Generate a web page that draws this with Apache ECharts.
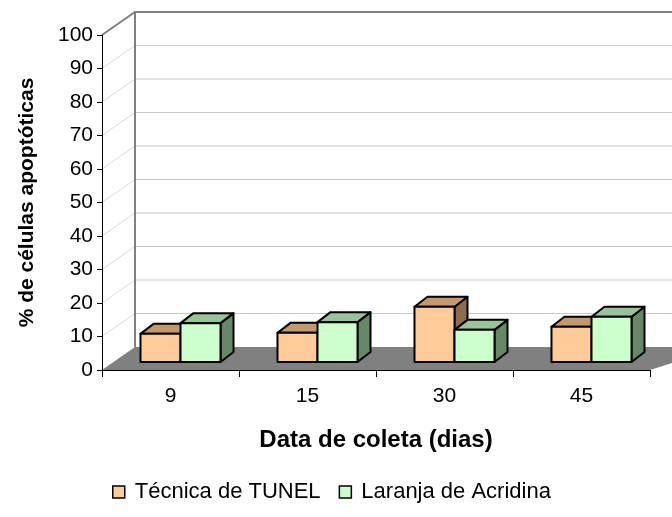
<!DOCTYPE html>
<html>
<head>
<meta charset="utf-8">
<script src="https://cdn.jsdelivr.net/npm/echarts@6/dist/echarts.min.js"></script>
<style>
  html, body { margin: 0; padding: 0; background: #fff; }
  #chart { width: 672px; height: 517px; }
</style>
</head>
<body>
<div id="chart"></div>
<script>
// Apoptotic cell percentage by collection day, two staining methods
const categories = ['9', '15', '30', '45'];
const tunel = [8.4, 8.7, 16.5, 10.5];
const acridina = [11.6, 11.9, 9.6, 13.5];
const seriesNames = ['Técnica de TUNEL', 'Laranja de Acridina'];
const yTicks = [0, 10, 20, 30, 40, 50, 60, 70, 80, 90, 100];

const FONT = '"Liberation Sans", Arial, Helvetica, sans-serif';

// pseudo-3D geometry (pixels)
const WALL_DEPTH = [33, -23];   // offset of back wall from the front plane
const BAR_SHIFT = [10, -8];     // offset of bar front faces from the front plane
const BAR_DEPTH = [13, -10];    // depth of each box
const BAR_FRAC = 0.292;         // bar width as a fraction of the category band

const palettes = [
  { front: '#FFCC99', top: '#C49A6C', side: '#8B6C4C' },
  { front: '#CCFFCC', top: '#99C499', side: '#668866' }
];

const chart = echarts.init(document.getElementById('chart'));

function scene(params, api) {
  const cs = params.coordSys;
  const x0 = cs.x, x1 = cs.x + cs.width;
  const yBase = api.coord([0, 0])[1];
  const yTop = api.coord([0, 100])[1];
  const [dx, dy] = WALL_DEPTH;
  const children = [];
  // floor
  children.push({
    type: 'polygon',
    shape: { points: [[x0, yBase], [x0 + dx, yBase + dy], [x1 + dx + 40, yBase + dy], [x1, yBase]] },
    style: { fill: '#808080' }
  });
  yTicks.forEach(v => {
    if (v === 0 || v === 100) return;
    const y = api.coord([0, v])[1];
    children.push({
      type: 'line',
      shape: { x1: x0, y1: y, x2: x0 + dx, y2: y + dy },
      style: { stroke: '#d8d8d8', lineWidth: 1 }
    });
    children.push({
      type: 'line',
      shape: { x1: x0 + dx, y1: y + dy, x2: x1 + dx + 40, y2: y + dy },
      style: { stroke: '#c8c8c8', lineWidth: 1 }
    });
  });
  // wall edges
  children.push({
    type: 'polyline',
    shape: { points: [[x0, yTop], [x0 + dx, yTop + dy], [x1 + dx + 40, yTop + dy]] },
    style: { stroke: '#808080', lineWidth: 2, fill: null }
  });
  children.push({
    type: 'line',
    shape: { x1: x0 + dx, y1: yTop + dy, x2: x0 + dx, y2: yBase + dy },
    style: { stroke: '#808080', lineWidth: 2 }
  });
  return { type: 'group', children };
}

function boxRenderer(seriesIdx) {
  const pal = palettes[seriesIdx];
  return function (params, api) {
    const i = api.value(0);
    const v = api.value(1);
    const base = api.coord([i, 0]);
    const top = api.coord([i, v]);
    const w = api.size([1, 0])[0] * BAR_FRAC;
    const cx = base[0] + BAR_SHIFT[0];
    const left = seriesIdx === 0 ? cx - w : cx;
    const right = left + w;
    const yb = base[1] + BAR_SHIFT[1];
    const yt = top[1] + BAR_SHIFT[1];
    const [bx, by] = BAR_DEPTH;
    const edge = { stroke: '#000', lineWidth: 2, lineJoin: 'round' };
    return {
      type: 'group',
      children: [
        { type: 'polygon', shape: { points: [[right, yb], [right + bx, yb + by], [right + bx, yt + by], [right, yt]] },
          style: Object.assign({ fill: pal.side }, edge) },
        { type: 'polygon', shape: { points: [[left, yt], [left + bx, yt + by], [right + bx, yt + by], [right, yt]] },
          style: Object.assign({ fill: pal.top }, edge) },
        { type: 'rect', shape: { x: left, y: yt, width: w, height: yb - yt },
          style: Object.assign({ fill: pal.front }, edge) }
      ]
    };
  };
}

const option = {
  animation: false,
  backgroundColor: '#fff',
  grid: { left: 102, right: 22, top: 35, bottom: 147, containLabel: false, outerBoundsMode: 'none' },
  xAxis: {
    type: 'category',
    data: categories,
    z: 5,
    name: 'Data de coleta (dias)',
    nameLocation: 'middle',
    nameGap: 58,
    nameTextStyle: { fontFamily: FONT, fontSize: 24, fontWeight: 'bold', color: '#000' },
    axisLine: { lineStyle: { color: '#000', width: 1 } },
    axisTick: { show: true, length: 7, lineStyle: { color: '#000' } },
    axisLabel: { fontFamily: FONT, fontSize: 21, color: '#000', margin: 16 },
    splitLine: { show: false }
  },
  yAxis: {
    type: 'value',
    min: 0, max: 100, interval: 10,
    z: 5,
    name: '% de células apoptóticas',
    nameLocation: 'middle',
    nameGap: 64,
    nameRotate: 90,
    nameTextStyle: { fontFamily: FONT, fontSize: 21, fontWeight: 'bold', color: '#000' },
    axisLine: { show: true, lineStyle: { color: '#000', width: 1 } },
    axisTick: { show: true, length: 5, lineStyle: { color: '#000' } },
    axisLabel: { fontFamily: FONT, fontSize: 21, color: '#000', margin: 9 },
    splitLine: { show: false }
  },
  legend: {
    left: 107, top: 476,
    itemWidth: 12, itemHeight: 12, itemGap: 18,
    textStyle: { fontFamily: FONT, fontSize: 22, color: '#000', padding: [0, 0, 0, 5] },
    data: seriesNames.map((n, k) => ({
      name: n, icon: 'rect',
      itemStyle: { color: palettes[k].front, borderColor: '#000', borderWidth: 1.5 }
    }))
  },
  series: [
    {
      type: 'custom', name: '_scene', z: 1, silent: true,
      renderItem: scene, data: [[0, 0]], encode: { x: 0, y: 1 }
    },
    {
      type: 'custom', name: seriesNames[0], z: 3,
      renderItem: boxRenderer(0),
      itemStyle: { color: palettes[0].front },
      data: tunel.map((v, i) => [i, v]), encode: { x: 0, y: 1 }
    },
    {
      type: 'custom', name: seriesNames[1], z: 3,
      renderItem: boxRenderer(1),
      itemStyle: { color: palettes[1].front },
      data: acridina.map((v, i) => [i, v]), encode: { x: 0, y: 1 }
    }
  ]
};

chart.setOption(option);
</script>
</body>
</html>
